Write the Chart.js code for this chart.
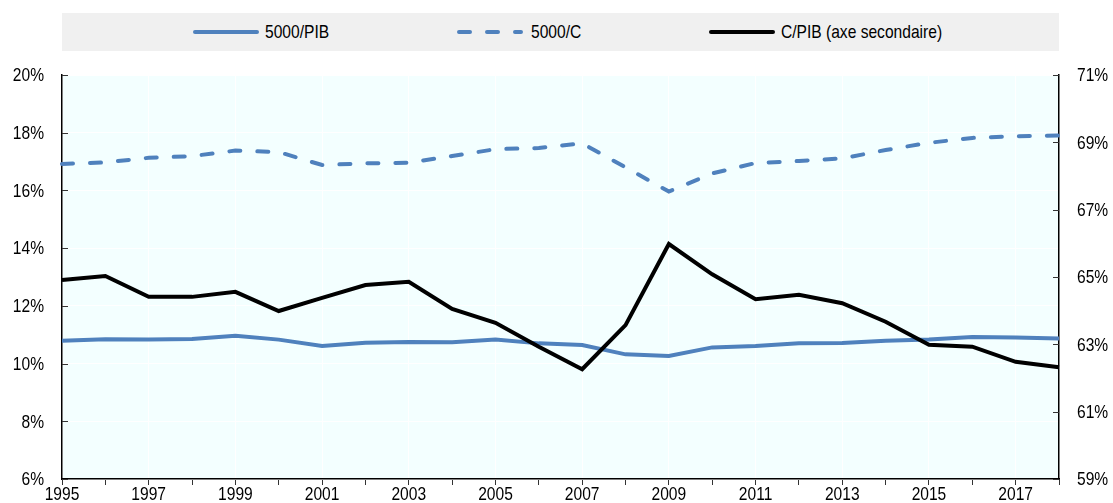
<!DOCTYPE html>
<html>
<head>
<meta charset="utf-8">
<script src="https://cdn.jsdelivr.net/npm/chart.js@4.4.1/dist/chart.umd.min.js"></script>
<style>
  body { margin: 0; background: #fff; }
  #wrap { position: relative; width: 1113px; height: 503px; }
  #legend {
    position: absolute; left: 62px; top: 13px; width: 997px; height: 38px;
    background: #f0f0f0;
    font-family: 'Liberation Sans', Arial, sans-serif; font-size: 19px; color: #000;
  }
  #legend svg { position: absolute; top: 15px; }
  #legend span {
    position: absolute; top: 8px; white-space: nowrap;
    transform: scaleX(0.82); transform-origin: left center;
  }
</style>
</head>
<body>
<div id="wrap">
  <canvas id="chart"></canvas>
  <div id="legend"></div>
</div>
<script>
const years = ['1995','1996','1997','1998','1999','2000','2001','2002','2003','2004','2005','2006',
               '2007','2008','2009','2010','2011','2012','2013','2014','2015','2016','2017','2018'];
// axe principal (%)
const pib5000 = [10.79,10.84,10.83,10.85,10.96,10.83,10.61,10.72,10.75,10.74,10.83,10.70,
                 10.64,10.32,10.26,10.56,10.61,10.70,10.71,10.79,10.83,10.92,10.90,10.87];
const c5000 = [16.92,16.97,17.13,17.19,17.38,17.33,16.88,16.94,16.96,17.19,17.43,17.47,
               17.63,16.80,15.96,16.59,16.95,17.02,17.11,17.40,17.65,17.82,17.88,17.90];
// axe secondaire (%)
const cPib = [64.91,65.03,64.41,64.41,64.56,63.99,64.38,64.76,64.86,64.05,63.64,62.93,
              62.26,63.57,65.98,65.08,64.34,64.47,64.22,63.67,62.99,62.93,62.48,62.32];

const BLUE = '#4f81bd';
const FONT = "'Liberation Sans', Arial, sans-serif";
const NARROW = 0.82; // police étroite (type Arial Narrow)

const legendItems = [
  { label: '5000/PIB', color: BLUE, dash: '', x: 131, tx: 203 },
  { label: '5000/C', color: BLUE, dash: '11 17', x: 395, tx: 469 },
  { label: 'C/PIB (axe secondaire)', color: '#000', dash: '', x: 647, tx: 719 }
];
const legend = document.getElementById('legend');
legendItems.forEach(it => {
  legend.insertAdjacentHTML('beforeend',
    `<svg width="66" height="8" style="left:${it.x}px"><line x1="2" y1="4" x2="64" y2="4" stroke="${it.color}"
      stroke-width="4" stroke-linecap="round" ${it.dash ? `stroke-dasharray="${it.dash}"` : ''}/></svg>
     <span style="left:${it.tx}px">${it.label}</span>`);
});

// fond de la zone de tracé, graduations intérieures, libellés en police étroite
const plotArea = {
  id: 'plotArea',
  beforeDraw(chart) {
    const { ctx, chartArea: a } = chart;
    ctx.save();
    ctx.fillStyle = '#f3ffff';
    ctx.fillRect(a.left, a.top, a.right - a.left, a.bottom - a.top);
    ctx.restore();
  },
  beforeDatasetsDraw(chart) {
    const { ctx, chartArea: a, scales } = chart;
    ctx.save();
    ctx.strokeStyle = '#333';
    ctx.lineWidth = 1;
    scales.y.ticks.forEach(t => {
      const py = Math.round(scales.y.getPixelForValue(t.value)) + 0.5;
      ctx.beginPath(); ctx.moveTo(a.left, py); ctx.lineTo(a.left + 6, py); ctx.stroke();
    });
    scales.y1.ticks.forEach(t => {
      const py = Math.round(scales.y1.getPixelForValue(t.value)) + 0.5;
      ctx.beginPath(); ctx.moveTo(a.right - 6, py); ctx.lineTo(a.right, py); ctx.stroke();
    });
    ctx.restore();
  },
  afterDraw(chart) {
    const { ctx, chartArea: a, scales } = chart;
    const text = (s, x, y, align, base) => {
      ctx.save();
      ctx.translate(x, y);
      ctx.scale(NARROW, 1);
      ctx.textAlign = align;
      ctx.textBaseline = base;
      ctx.fillText(s, 0, 0);
      ctx.restore();
    };
    ctx.save();
    ctx.fillStyle = '#000';
    ctx.font = `19px ${FONT}`;
    scales.y.ticks.forEach(t => text(t.label, a.left - 18, scales.y.getPixelForValue(t.value) + 1, 'right', 'middle'));
    scales.y1.ticks.forEach(t => text(t.label, a.right + 18, scales.y1.getPixelForValue(t.value) + 1, 'left', 'middle'));
    scales.x.ticks.forEach((t, i) => {
      if (t.label) text(t.label, scales.x.getPixelForTick(i), a.bottom + 21, 'center', 'alphabetic');
    });
    ctx.restore();
  }
};

new Chart(document.getElementById('chart'), {
  type: 'line',
  data: {
    labels: years,
    datasets: [
      { label: '5000/PIB', data: pib5000, yAxisID: 'y', borderColor: BLUE, borderWidth: 4, order: 2 },
      { label: '5000/C', data: c5000, yAxisID: 'y', borderColor: BLUE, borderWidth: 4,
        borderDash: [11, 17], borderCapStyle: 'round', order: 1 },
      { label: 'C/PIB (axe secondaire)', data: cPib, yAxisID: 'y1', borderColor: '#000', borderWidth: 4, order: 0 }
    ]
  },
  options: {
    responsive: true,
    maintainAspectRatio: false,
    animation: false,
    layout: { padding: { top: 75, left: 0, right: 0, bottom: 0 } },
    elements: { point: { radius: 0 }, line: { tension: 0, borderJoinStyle: 'miter' } },
    plugins: { legend: { display: false }, tooltip: { enabled: false } },
    scales: {
      x: {
        offset: false,
        afterFit: s => { s.height = 24; },
        grid: {
          color: c => (c.index % 2 === 0 ? '#ffffff' : 'rgba(0,0,0,0)'),
          tickColor: '#333', tickLength: 6, drawTicks: true
        },
        border: { color: '#000', width: 1.5 },
        ticks: {
          display: false, autoSkip: false,
          callback: (v, i) => (i % 2 === 0 ? years[i] : '')
        }
      },
      y: {
        position: 'left', min: 6, max: 20,
        afterFit: s => { s.width = 62; },
        grid: { color: '#ffffff', drawTicks: false },
        border: { color: '#000', width: 1.5 },
        ticks: { display: false, stepSize: 2, callback: v => v + '%' }
      },
      y1: {
        position: 'right', min: 59, max: 71,
        afterFit: s => { s.width = 54; },
        grid: { drawOnChartArea: false, drawTicks: false },
        border: { color: '#000', width: 1.5 },
        ticks: { display: false, stepSize: 2, callback: v => v + '%' }
      }
    }
  },
  plugins: [plotArea]
});
</script>
</body>
</html>
